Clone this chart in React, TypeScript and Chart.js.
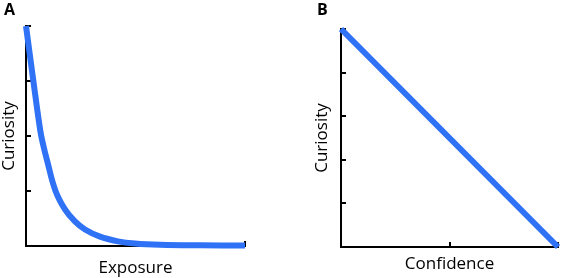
import React, { useEffect, useRef } from 'react';
import { Chart, registerables } from 'chart.js';

Chart.register(...registerables);

// Panel A: curiosity vs exposure
const exposureValues = [0, 0.068, 0.131, 0.158, 0.192, 0.268, 0.356, 0.447, 0.539, 0.676, 0.84, 0.995, 1.224, 1.589, 2];
const exposureCuriosity = [4, 2.99, 2.09, 1.83, 1.56, 1.01, 0.665, 0.446, 0.3, 0.17, 0.085, 0.045, 0.022, 0.012, 0.01];
const exposureXTicks = [1, 2];
const exposureYTicks = [1, 2, 3, 4];

// Panel B: curiosity vs confidence
const confidenceValues = [0, 2];
const confidenceCuriosity = [5, 0];
const confidenceXTicks = [1, 2];
const confidenceYTicks = [1, 2, 3, 4, 5];

const BLUE = '#2f72f5';
const FONT = '"Open Sans", "DejaVu Sans", sans-serif';

const inwardTicks = {
  id: 'inwardTicks',
  beforeDatasetsDraw(chart: any, _args: any, opts: any) {
    const { ctx, chartArea, scales } = chart;
    const x = scales.x;
    const y = scales.y;
    ctx.save();
    ctx.strokeStyle = '#000';
    ctx.lineWidth = 2;
    ctx.beginPath();
    for (const v of opts.xTicks || []) {
      const px = Math.round(x.getPixelForValue(v));
      ctx.moveTo(px, chartArea.bottom);
      ctx.lineTo(px, chartArea.bottom - 5);
    }
    for (const v of opts.yTicks || []) {
      const py = Math.round(y.getPixelForValue(v));
      ctx.moveTo(chartArea.left, py);
      ctx.lineTo(chartArea.left + 5, py);
    }
    ctx.stroke();
    ctx.restore();
  },
};

interface PanelProps {
  letter: string;
  xs: number[];
  ys: number[];
  xMax: number;
  yMax: number;
  xTitle: string;
  xTicks: number[];
  yTicks: number[];
  padding: { left: number; right: number; top: number; bottom: number };
  yTitlePad: { top: number; bottom: number };
  xTitlePad: { top: number; bottom: number };
  titlePad: { top: number; bottom: number };
  left: number;
}

function Panel(p: PanelProps) {
  const ref = useRef<HTMLCanvasElement>(null);
  useEffect(() => {
    if (!ref.current) return;
    const data = p.xs.map((x, i) => ({ x, y: p.ys[i] }));
    const chart = new Chart(ref.current, {
      type: 'line',
      data: {
        datasets: [
          {
            data,
            borderColor: BLUE,
            backgroundColor: BLUE,
            borderWidth: 6,
            pointRadius: 0,
            tension: 0.4,
            clip: false as any,
            borderCapStyle: 'butt',
          },
        ],
      },
      options: {
        animation: false,
        responsive: false,
        maintainAspectRatio: false,
        layout: { padding: p.padding },
        plugins: {
          legend: { display: false },
          tooltip: { enabled: false },
          title: {
            display: true,
            text: p.letter,
            align: 'start',
            color: '#000',
            font: { family: FONT, size: 16, weight: 'bold' },
            padding: p.titlePad,
          },
          inwardTicks: { xTicks: p.xTicks, yTicks: p.yTicks },
        } as any,
        scales: {
          x: {
            type: 'linear',
            min: 0,
            max: p.xMax,
            ticks: { display: false },
            grid: { display: false, drawTicks: false },
            border: { display: true, color: '#000', width: 2 },
            title: {
              display: true,
              text: p.xTitle,
              color: '#000',
              font: { family: FONT, size: 17 },
              padding: p.xTitlePad,
            },
          },
          y: {
            type: 'linear',
            min: 0,
            max: p.yMax,
            ticks: { display: false },
            grid: { display: false, drawTicks: false },
            border: { display: true, color: '#000', width: 2 },
            title: {
              display: true,
              text: 'Curiosity',
              color: '#000',
              font: { family: FONT, size: 17 },
              padding: p.yTitlePad,
            },
          },
        },
      },
      plugins: [inwardTicks],
    });
    return () => chart.destroy();
  }, []);
  return (
    <canvas
      ref={ref}
      width={281}
      height={278}
      style={{ position: 'absolute', left: p.left, top: 0, width: 281, height: 278 }}
    />
  );
}

export default function App() {
  return (
    <div style={{ position: 'fixed', left: 0, top: 0, width: 562, height: 278, background: '#fff' }}>
      <Panel
        letter="A"
        xs={exposureValues}
        ys={exposureCuriosity}
        xMax={2}
        yMax={4}
        xTitle="Exposure"
        xTicks={exposureXTicks}
        yTicks={exposureYTicks}
        left={0}
        padding={{ left: 4, right: 36, top: 0, bottom: 0 }}
        titlePad={{ top: 1, bottom: 5.8 }}
        yTitlePad={{ top: -5.2, bottom: 6.8 }}
        xTitlePad={{ top: 12.1, bottom: -0.5 }}
      />
      <Panel
        letter="B"
        xs={confidenceValues}
        ys={confidenceCuriosity}
        xMax={2}
        yMax={5}
        xTitle="Confidence"
        xTicks={confidenceXTicks}
        yTicks={confidenceYTicks}
        left={281}
        padding={{ left: 36, right: 4, top: 0, bottom: 0 }}
        titlePad={{ top: 1, bottom: 8.8 }}
        yTitlePad={{ top: -5.2, bottom: 8.8 }}
        xTitlePad={{ top: 6.8, bottom: 3.8 }}
      />
    </div>
  );
}
